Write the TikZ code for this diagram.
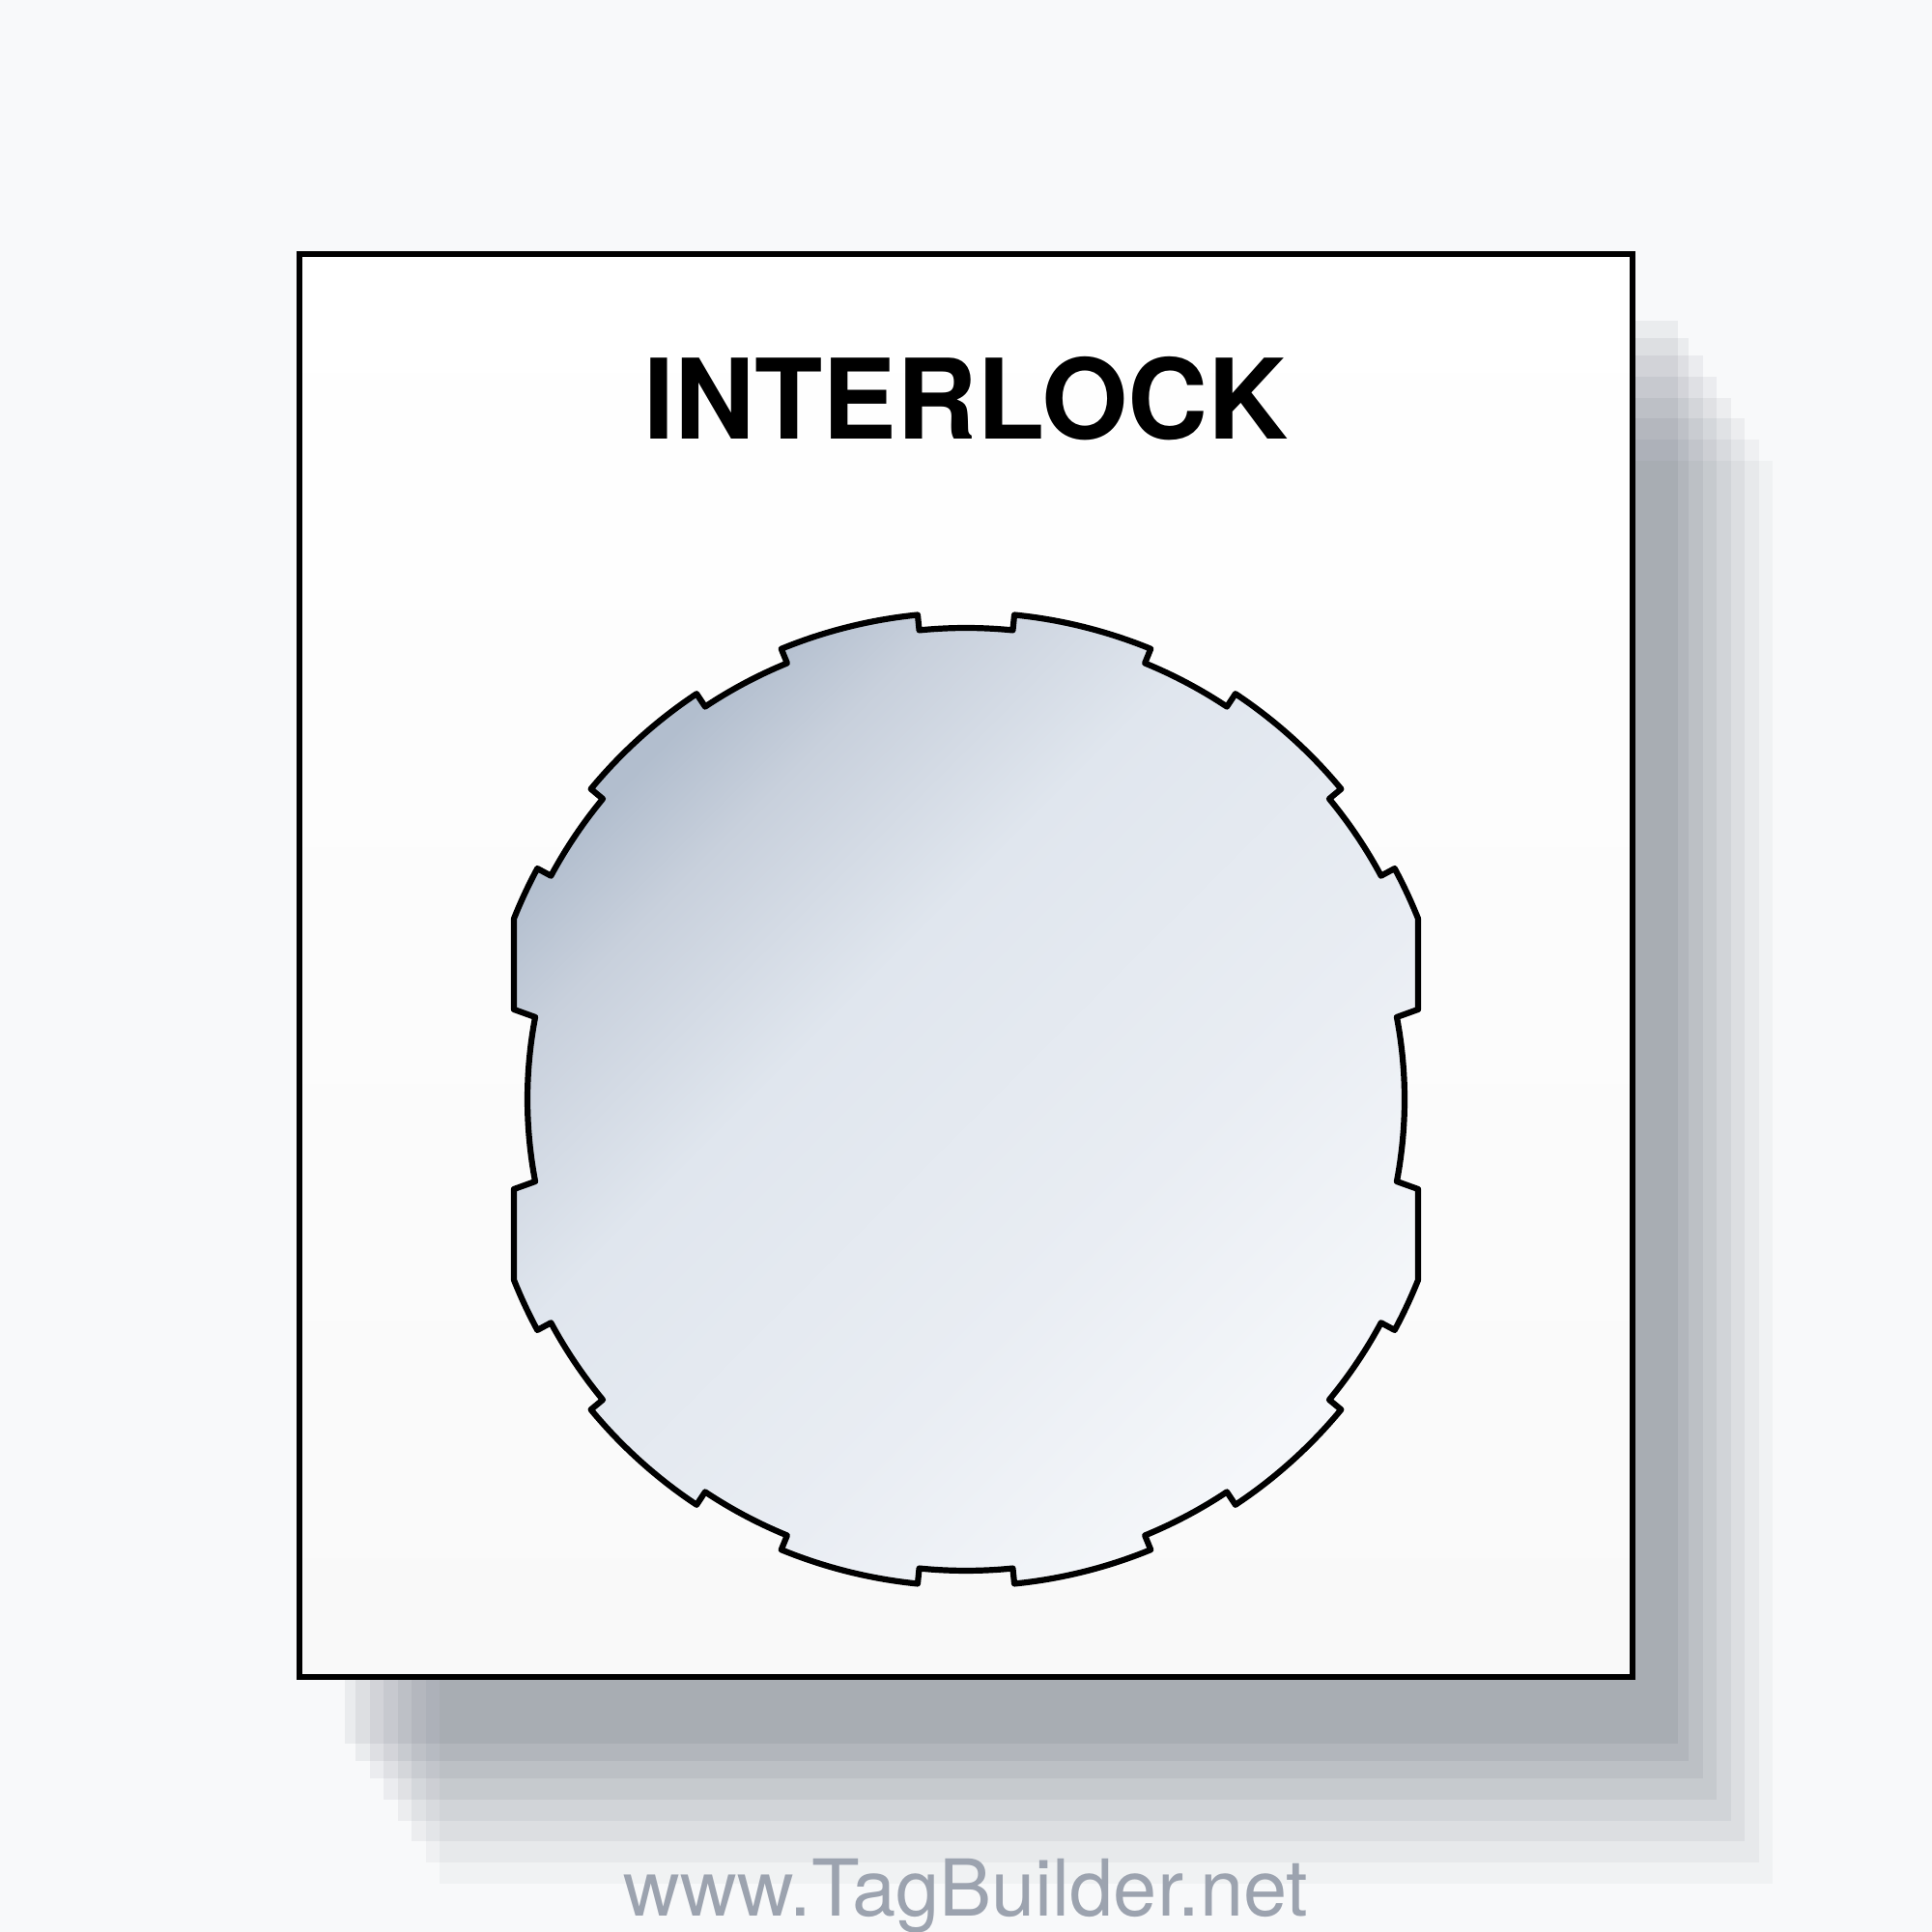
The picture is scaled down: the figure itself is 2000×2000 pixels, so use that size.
\documentclass[tikz,border=0pt]{standalone}
\usepackage{fontspec}
\newfontfamily\heros{TeX Gyre Heros}
\definecolor{bgc}{HTML}{F8F9FA}
\definecolor{shadowc}{RGB}{20,30,50}
\definecolor{rectbot}{HTML}{F9F9F9}
\definecolor{wmc}{HTML}{9CA3AF}
\definecolor{pA}{HTML}{B2BECE}
\definecolor{pB}{HTML}{C8D0DC}
\definecolor{pC}{HTML}{E0E6EE}
\definecolor{pD}{HTML}{E9EDF3}
\definecolor{pE}{HTML}{F5F7FA}
\pgfdeclarehorizontalshading{platefill}{100bp}{color(0bp)=(pA); color(25bp)=(pA); color(31bp)=(pB); color(42bp)=(pC); color(60bp)=(pD); color(75bp)=(pE); color(100bp)=(pE)}
\begin{document}
\begin{tikzpicture}[x=0.01cm,y=0.01cm,
  shadowlayer/.style={fill=shadowc},
  frame/.style={top color=white, bottom color=rectbot},
  frameline/.style={draw=black, line width=0.055cm},
  plate/.style={draw=black, line width=0.062cm, line join=round, shading=platefill, shading angle=-45},
  titletext/.style={anchor=base, font=\heros\bfseries\fontsize{32.7}{40}\selectfont, text=black, inner sep=0pt},
  wmtext/.style={anchor=base, font=\heros\fontsize{23.1}{28}\selectfont, text=wmc, inner sep=0pt}]
\fill[bgc] (0,0) rectangle (2000,2000);
\useasboundingbox (0,0) rectangle (2000,2000);
% stacked shadow
\foreach \dx/\dy/\op in {145/214/0.03, 131/192/0.04, 116/170/0.05, 102/149/0.05, 87/127/0.055, 73/105/0.055, 58/87/0.06, 47/69/0.06}
  \fill[shadowlayer, fill opacity=\op] (310+\dx,1737-\dy) rectangle (1690+\dx,264-\dy);
% main card
\shade[frame] (310,264) rectangle (1690,1737);
\draw[frameline] (310,264) rectangle (1690,1737);
\node[titletext] (title) at (1000,1545) {INTERLOCK};
% notched plate
\begin{scope}[shift={(1000,862)}]
\shadedraw[plate]
 (468,93) -- (21.8:504) arc[start angle=21.8, end angle=28.3, radius=504]
 -- (28.3:488) arc[start angle=28.3, end angle=39.6, radius=488]
 -- (39.6:504) arc[start angle=39.6, end angle=56.4, radius=504]
 -- (56.4:488) arc[start angle=56.4, end angle=67.7, radius=488]
 -- (67.7:504) arc[start angle=67.7, end angle=84.3, radius=504]
 -- (84.3:488) arc[start angle=84.3, end angle=95.7, radius=488]
 -- (95.7:504) arc[start angle=95.7, end angle=112.3, radius=504]
 -- (112.3:488) arc[start angle=112.3, end angle=123.6, radius=488]
 -- (123.6:504) arc[start angle=123.6, end angle=140.4, radius=504]
 -- (140.4:488) arc[start angle=140.4, end angle=151.7, radius=488]
 -- (151.7:504) arc[start angle=151.7, end angle=158.2, radius=504]
 -- (-468,93) -- (169.2:454) arc[start angle=169.2, end angle=190.8, radius=454]
 -- (-468,-93) -- (201.8:504) arc[start angle=201.8, end angle=208.3, radius=504]
 -- (208.3:488) arc[start angle=208.3, end angle=219.6, radius=488]
 -- (219.6:504) arc[start angle=219.6, end angle=236.4, radius=504]
 -- (236.4:488) arc[start angle=236.4, end angle=247.7, radius=488]
 -- (247.7:504) arc[start angle=247.7, end angle=264.3, radius=504]
 -- (264.3:488) arc[start angle=264.3, end angle=275.7, radius=488]
 -- (275.7:504) arc[start angle=275.7, end angle=292.3, radius=504]
 -- (292.3:488) arc[start angle=292.3, end angle=303.6, radius=488]
 -- (303.6:504) arc[start angle=303.6, end angle=320.4, radius=504]
 -- (320.4:488) arc[start angle=320.4, end angle=331.7, radius=488]
 -- (331.7:504) arc[start angle=331.7, end angle=338.2, radius=504]
 -- (468,-93) -- (349.2:454) arc[start angle=349.2, end angle=370.8, radius=454]
 -- cycle;
\end{scope}
\node[wmtext] (watermark) at (1000,17) {www.TagBuilder.net};
\end{tikzpicture}
\end{document}
